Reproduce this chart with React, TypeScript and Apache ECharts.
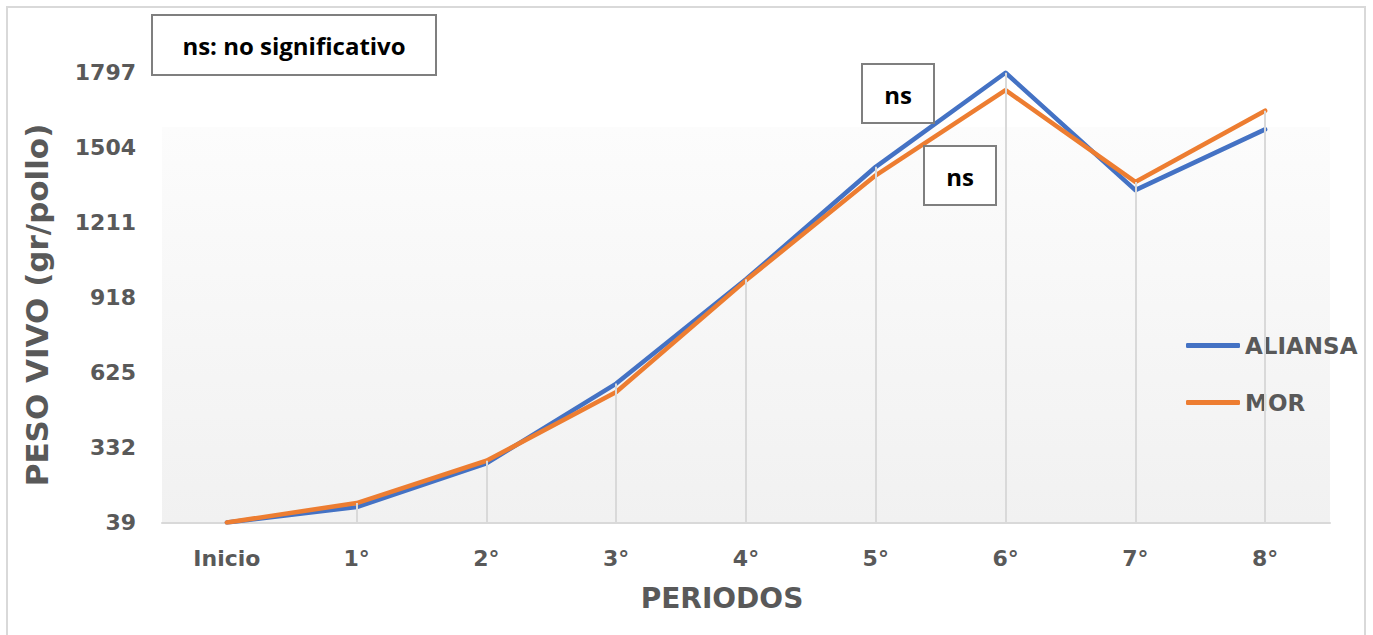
import React, { useEffect, useRef } from "react";
import * as echarts from "echarts";

const categories = ["Inicio", "1°", "2°", "3°", "4°", "5°", "6°", "7°", "8°"];
const aliansa = [39, 99, 270, 581, 988, 1427, 1794, 1336, 1573];
const mor = [39, 115, 280, 548, 984, 1394, 1726, 1368, 1646];
const yTicks = [39, 332, 625, 918, 1211, 1504, 1797];

const GRAY = "#595959";
const FONT = "DejaVu Sans";

export default function App() {
  const ref = useRef<HTMLDivElement>(null);
  useEffect(() => {
    if (!ref.current) return;
    const chart = echarts.init(ref.current, undefined, { renderer: "svg" });
    const drop = categories.map((_, i) => [
      { coord: [i, yTicks[0]] },
      { coord: [i, Math.max(aliansa[i], mor[i])] },
    ]);
    chart.setOption({
      animation: false,
      backgroundColor: "#ffffff",
      grid: { left: 162, right: 43, top: 72, bottom: 112.5, containLabel: false },
      legend: {
        data: ["ALIANSA", "MOR"],
        orient: "vertical",
        left: 1181,
        top: 329,
        itemWidth: 54,
        itemHeight: 5,
        itemGap: 34,
        icon: "roundRect",
        textStyle: { color: GRAY, fontFamily: FONT, fontWeight: "bold", fontSize: 23 },
      },
      xAxis: {
        type: "category",
        data: categories,
        boundaryGap: true,
        axisLine: { show: true, lineStyle: { color: "#d9d9d9", width: 2 } },
        axisTick: { show: false },
        splitLine: { show: false },
        axisLabel: { color: GRAY, fontFamily: FONT, fontWeight: "bold", fontSize: 22, margin: 25 },
      },
      yAxis: {
        type: "value",
        min: yTicks[0],
        max: yTicks[yTicks.length - 1],
        axisLine: { show: false },
        axisTick: { show: false },
        splitLine: { show: false },
        axisLabel: {
          customValues: yTicks,
          formatter: (v: number) => String(v),
          color: GRAY,
          fontFamily: FONT,
          fontWeight: "bold",
          fontSize: 22,
          margin: 26,
        },
      },
      graphic: [
        {
          type: "rect",
          z: -10,
          shape: { x: 7, y: 7, width: 1358, height: 640 },
          style: { fill: "#ffffff", stroke: "#d9d9d9", lineWidth: 2 },
        },
        {
          type: "rect",
          z: -5,
          shape: { x: 162, y: 127, width: 1168, height: 395 },
          style: {
            fill: new echarts.graphic.LinearGradient(0, 0, 0, 1, [
              { offset: 0, color: "#fcfcfc" },
              { offset: 1, color: "#f1f1f1" },
            ]),
          },
        },
        {
          type: "rect",
          z: 20,
          shape: { x: 152, y: 15, width: 284, height: 60 },
          style: { fill: "#ffffff", stroke: "#7f7f7f", lineWidth: 2 },
        },
        {
          type: "text",
          z: 21,
          x: 294,
          y: 45,
          style: {
            text: "ns: no significativo",
            fill: "#000000",
            font: "bold 24px 'Open Sans'",
            align: "center",
            verticalAlign: "middle",
          },
        },
        {
          type: "rect",
          z: 20,
          shape: { x: 862, y: 64, width: 72, height: 59 },
          style: { fill: "#ffffff", stroke: "#7f7f7f", lineWidth: 2 },
        },
        {
          type: "text",
          z: 21,
          x: 898,
          y: 94,
          style: { text: "ns", fill: "#000000", font: "bold 24px 'Open Sans'", align: "center", verticalAlign: "middle" },
        },
        {
          type: "rect",
          z: 20,
          shape: { x: 924, y: 146, width: 72, height: 59 },
          style: { fill: "#ffffff", stroke: "#7f7f7f", lineWidth: 2 },
        },
        {
          type: "text",
          z: 21,
          x: 960,
          y: 176,
          style: { text: "ns", fill: "#000000", font: "bold 24px 'Open Sans'", align: "center", verticalAlign: "middle" },
        },
        {
          type: "text",
          x: 722,
          y: 598,
          style: {
            text: "PERIODOS",
            fill: GRAY,
            font: `bold 28px '${FONT}'`,
            align: "center",
            verticalAlign: "middle",
          },
        },
        {
          type: "text",
          x: 37,
          y: 305,
          rotation: Math.PI / 2,
          style: {
            text: "PESO VIVO (gr/pollo)",
            fill: GRAY,
            font: `bold 31px '${FONT}'`,
            align: "center",
            verticalAlign: "middle",
          },
        },
      ],
      series: [
        {
          name: "drop",
          type: "line",
          data: [],
          z: 1,
          silent: true,
          markLine: {
            silent: true,
            symbol: ["none", "none"],
            label: { show: false },
            lineStyle: { color: "#d9d9d9", width: 2, type: "solid" },
            data: drop,
          },
        },
        {
          name: "ALIANSA",
          type: "line",
          data: aliansa,
          z: 3,
          showSymbol: false,
          symbol: "none",
          color: "#4472C4",
          lineStyle: { width: 4.5, color: "#4472C4", cap: "round", join: "round" },
        },
        {
          name: "MOR",
          type: "line",
          data: mor,
          z: 4,
          showSymbol: false,
          symbol: "none",
          color: "#ED7D31",
          lineStyle: { width: 4.5, color: "#ED7D31", cap: "round", join: "round" },
        },
      ],
    });
    return () => chart.dispose();
  }, []);
  return (
    <div
      ref={ref}
      style={{ position: "absolute", left: 0, top: 0, width: 1373, height: 635 }}
    />
  );
}
